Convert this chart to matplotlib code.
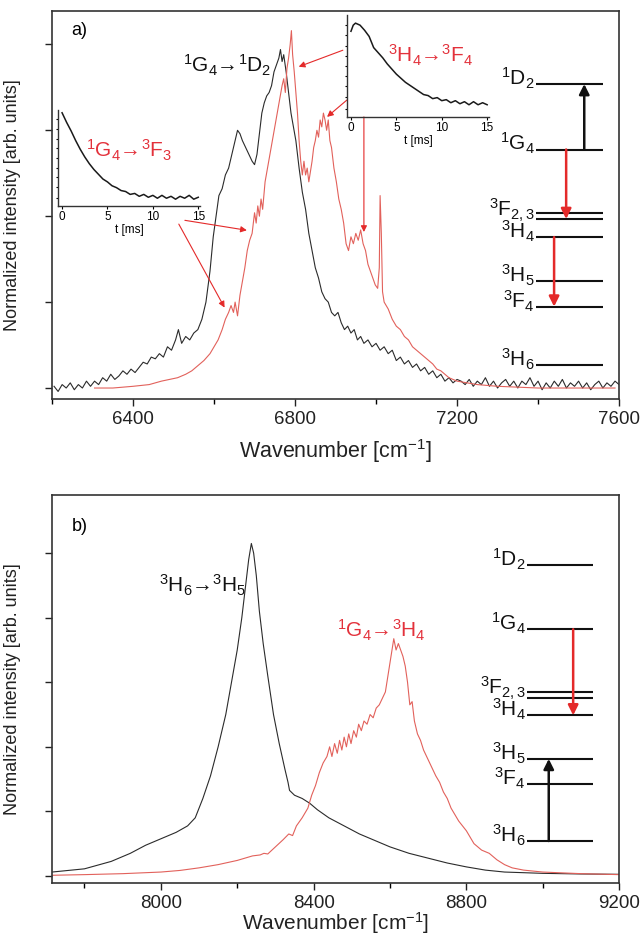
import matplotlib
matplotlib.use('Agg')
import matplotlib.pyplot as plt
from matplotlib.ticker import MultipleLocator

plt.rcParams['font.family'] = ['Liberation Sans', 'DejaVu Sans']
plt.rcParams['mathtext.fontset'] = 'custom'
plt.rcParams['mathtext.rm'] = 'Liberation Sans'
plt.rcParams['mathtext.it'] = 'Liberation Sans:italic'
plt.rcParams['mathtext.bf'] = 'Liberation Sans:bold'

BLACK = '#2b2b2b'
RED_LINE = '#e2615b'
RED_TXT = '#e3313b'
RED_ARR = '#e42a2a'

# ---------------- panel a: 1G4 -> 1D2 (black) and 1G4 -> 3F3 / 3H4 -> 3F4 (red)
a_black_x = [6205, 6215, 6225, 6235, 6245, 6255, 6265, 6275, 6285, 6295, 6305, 6315, 6325, 6335,
             6345, 6355, 6365, 6375, 6385, 6395, 6405, 6415, 6425, 6435, 6445, 6455, 6465, 6475,
             6485, 6495, 6505, 6512, 6520, 6530, 6540, 6550, 6560, 6570, 6580, 6590, 6598, 6605,
             6612, 6620, 6628, 6636, 6644, 6652, 6658, 6664, 6670, 6678, 6686, 6694, 6700, 6706,
             6712, 6718, 6724, 6730, 6736, 6742, 6748, 6754, 6760, 6764, 6768, 6772, 6778, 6784,
             6790, 6796, 6802, 6810, 6818, 6826, 6834, 6842, 6850, 6858, 6866, 6874, 6882, 6890,
             6898, 6906, 6914, 6922, 6930, 6938, 6946, 6954, 6962, 6970, 6980, 6990, 7000, 7010,
             7020, 7030, 7040, 7050, 7060, 7070, 7080, 7090, 7100, 7110, 7120, 7130, 7140, 7150,
             7160, 7170, 7180, 7190, 7200, 7210, 7220, 7230, 7240, 7250, 7260, 7270, 7280, 7290,
             7300, 7310, 7320, 7330, 7340, 7350, 7360, 7370, 7380, 7390, 7400, 7410, 7420, 7430,
             7440, 7450, 7460, 7470, 7480, 7490, 7500, 7510, 7520, 7530, 7540, 7550, 7560, 7570,
             7580, 7590, 7600]
a_black_y = [0.005, -0.01, 0.01, 0.0, 0.015, -0.005, 0.01, 0.0, 0.02, 0.005, 0.02, 0.01, 0.03, 0.02,
             0.04, 0.025, 0.035, 0.05, 0.04, 0.055, 0.045, 0.06, 0.075, 0.07, 0.09, 0.085, 0.10, 0.09,
             0.12, 0.11, 0.14, 0.17, 0.13, 0.15, 0.14, 0.16, 0.17, 0.20, 0.25, 0.34, 0.44, 0.50,
             0.56, 0.58, 0.62, 0.64, 0.68, 0.72, 0.75, 0.74, 0.72, 0.70, 0.68, 0.66, 0.65, 0.68,
             0.74, 0.80, 0.83, 0.85, 0.86, 0.88, 0.92, 0.94, 0.96, 0.985, 0.95, 0.97, 0.92, 0.86,
             0.80, 0.76, 0.72, 0.64, 0.57, 0.52, 0.45, 0.40, 0.35, 0.32, 0.28, 0.26, 0.25, 0.22,
             0.21, 0.22, 0.19, 0.17, 0.18, 0.16, 0.17, 0.14, 0.15, 0.13, 0.14, 0.12, 0.13, 0.11,
             0.12, 0.10, 0.11, 0.08, 0.09, 0.07, 0.08, 0.06, 0.07, 0.05, 0.06, 0.04, 0.05, 0.03,
             0.04, 0.02, 0.03, 0.015, 0.025, 0.02, 0.01, 0.025, 0.005, 0.02, 0.01, 0.03, 0.005, 0.02,
             0.0, 0.015, 0.025, 0.005, 0.02, 0.0, 0.02, 0.01, 0.03, 0.005, 0.02, -0.005, 0.015, 0.0,
             0.02, 0.005, 0.025, 0.0, 0.015, 0.005, 0.02, 0.0, 0.015, -0.005, 0.01, 0.02, 0.0, 0.015,
             0.005, 0.02, 0.01]

a_red_x = [6305, 6350, 6400, 6440, 6470, 6490, 6510, 6530, 6545, 6560, 6575, 6590, 6600, 6610,
           6620, 6628, 6636, 6642, 6648, 6652, 6658, 6664, 6670, 6676, 6682, 6688, 6694, 6700,
           6704, 6708, 6712, 6716, 6720, 6726, 6732, 6738, 6744, 6750, 6756, 6762, 6768, 6772,
           6776, 6780, 6784, 6788, 6791, 6794, 6798, 6802, 6806, 6810, 6814, 6818, 6822, 6826,
           6830, 6834, 6838, 6842, 6846, 6850, 6854, 6858, 6862, 6866, 6870, 6874, 6878, 6882,
           6886, 6890, 6896, 6902, 6908, 6914, 6920, 6926, 6932, 6938, 6944, 6950, 6956, 6962,
           6968, 6974, 6980, 6986, 6992, 6998, 7004, 7008, 7010, 7013, 7016, 7020, 7030, 7040,
           7050, 7060, 7070, 7080, 7090, 7100, 7110, 7120, 7130, 7140, 7150, 7160, 7170, 7180,
           7190, 7200, 7250, 7300, 7400, 7500, 7590]
a_red_y = [0.0, 0.0, 0.005, 0.01, 0.02, 0.025, 0.03, 0.04, 0.05, 0.065, 0.08, 0.10, 0.12, 0.14,
           0.17, 0.20, 0.22, 0.24, 0.22, 0.25, 0.21, 0.27, 0.31, 0.35, 0.40, 0.43, 0.45, 0.51,
           0.48, 0.53, 0.50, 0.55, 0.52, 0.60, 0.64, 0.68, 0.72, 0.76, 0.80, 0.84, 0.88, 0.90,
           0.86, 0.93, 0.96, 1.00, 1.04, 0.97, 0.92, 0.86, 0.80, 0.72, 0.66, 0.62, 0.66, 0.62,
           0.64, 0.60, 0.63, 0.66, 0.70, 0.72, 0.75, 0.73, 0.78, 0.76, 0.80, 0.78, 0.75, 0.78,
           0.72, 0.70, 0.64, 0.60, 0.55, 0.52, 0.48, 0.42, 0.40, 0.44, 0.42, 0.45, 0.43, 0.46,
           0.42, 0.40, 0.36, 0.34, 0.32, 0.30, 0.29, 0.35, 0.56, 0.45, 0.28, 0.25, 0.23, 0.20,
           0.18, 0.17, 0.15, 0.14, 0.12, 0.11, 0.10, 0.09, 0.08, 0.07, 0.055, 0.05, 0.04, 0.03,
           0.025, 0.02, 0.01, 0.005, 0.0, 0.0, 0.0]

# insets of panel a (decay curves)
in1_t = [0, 0.5, 1, 1.5, 2, 2.5, 3, 3.5, 4, 4.5, 5, 5.5, 6, 6.5, 7, 7.5, 8, 8.5, 9, 9.5,
         10, 10.5, 11, 11.5, 12, 12.5, 13, 13.5, 14, 14.5, 15]
in1_y = [0.97, 0.87, 0.78, 0.68, 0.59, 0.51, 0.44, 0.38, 0.33, 0.28, 0.25, 0.21, 0.19, 0.16,
         0.15, 0.12, 0.13, 0.10, 0.12, 0.09, 0.11, 0.08, 0.11, 0.08, 0.10, 0.07, 0.10, 0.08,
         0.11, 0.07, 0.09]
in2_t = [0, 0.25, 0.5, 1, 1.5, 2, 2.5, 3, 3.5, 4, 4.5, 5, 5.5, 6, 6.5, 7, 7.5, 8, 8.5, 9,
         9.5, 10, 10.5, 11, 11.5, 12, 12.5, 13, 13.5, 14, 14.5, 15]
in2_y = [0.84, 0.90, 0.92, 0.90, 0.85, 0.79, 0.68, 0.63, 0.58, 0.52, 0.47, 0.42, 0.38, 0.34,
         0.31, 0.28, 0.25, 0.22, 0.21, 0.18, 0.19, 0.16, 0.17, 0.14, 0.16, 0.13, 0.15, 0.12,
         0.15, 0.12, 0.14, 0.12]

# ---------------- panel b: 3H6 -> 3H5 (black) and 1G4 -> 3H4 (red)
b_black_x = [7715, 7800, 7870, 7920, 7960, 8000, 8040, 8070, 8090, 8110, 8130, 8150, 8170, 8185,
             8200, 8212, 8222, 8230, 8237, 8243, 8250, 8258, 8268, 8280, 8295, 8310, 8325, 8333,
             8337, 8350, 8370, 8390, 8410, 8440, 8480, 8520, 8560, 8600, 8650, 8700, 8750, 8800,
             8850, 8900, 9000, 9100, 9200]
b_black_y = [0.012, 0.022, 0.045, 0.07, 0.095, 0.115, 0.135, 0.155, 0.18, 0.24, 0.31, 0.40, 0.50,
             0.60, 0.70, 0.80, 0.90, 0.98, 1.03, 1.00, 0.93, 0.82, 0.72, 0.62, 0.50, 0.41, 0.33,
             0.29, 0.265, 0.25, 0.24, 0.225, 0.205, 0.18, 0.155, 0.13, 0.11, 0.09, 0.07, 0.055,
             0.04, 0.028, 0.018, 0.012, 0.008, 0.006, 0.005]

b_red_x = [7715, 7800, 7900, 8000, 8050, 8100, 8150, 8200, 8240, 8260, 8270, 8280, 8300, 8320,
           8335, 8345, 8355, 8370, 8385, 8395, 8405, 8415, 8425, 8435, 8442, 8448, 8455, 8462,
           8468, 8474, 8480, 8486, 8492, 8498, 8505, 8512, 8518, 8525, 8532, 8540, 8548, 8556,
           8564, 8572, 8580, 8588, 8596, 8604, 8610, 8616, 8622, 8628, 8634, 8640, 8646, 8652,
           8658, 8664, 8672, 8680, 8688, 8696, 8704, 8712, 8720, 8730, 8740, 8750, 8760, 8770,
           8780, 8790, 8800, 8810, 8820, 8830, 8840, 8850, 8860, 8870, 8880, 8900, 8920, 8950,
           9000, 9100, 9200]
b_red_y = [0.002, 0.004, 0.007, 0.012, 0.017, 0.025, 0.035, 0.048, 0.062, 0.065, 0.07, 0.068,
           0.09, 0.112, 0.13, 0.125, 0.155, 0.18, 0.21, 0.25, 0.28, 0.32, 0.35, 0.37, 0.40, 0.37,
           0.41, 0.38, 0.42, 0.39, 0.43, 0.40, 0.44, 0.41, 0.45, 0.43, 0.47, 0.45, 0.48, 0.47,
           0.50, 0.49, 0.52, 0.53, 0.55, 0.57, 0.63, 0.69, 0.735, 0.70, 0.72, 0.70, 0.68, 0.65,
           0.60, 0.53, 0.54, 0.48, 0.44, 0.42, 0.39, 0.37, 0.35, 0.33, 0.31, 0.29, 0.26, 0.24,
           0.21, 0.19, 0.17, 0.155, 0.14, 0.12, 0.10, 0.09, 0.08, 0.075, 0.07, 0.06, 0.05, 0.035,
           0.025, 0.018, 0.012, 0.007, 0.004]

# ---------------- Tm3+ energy levels [cm-1]
level_energy = [0, 5800, 8300, 12700, 14500, 15100, 21400, 27900]
level_label = ['$^3$H$_6$', '$^3$F$_4$', '$^3$H$_5$', '$^3$H$_4$', '$^3$F$_{2,3}$', '',
               '$^1$G$_4$', '$^1$D$_2$']


def style_main(ax, xlim, ylim, yticks):
    ax.set_xlim(*xlim)
    ax.set_ylim(*ylim)
    ax.xaxis.set_major_locator(MultipleLocator(400))
    ax.xaxis.set_minor_locator(MultipleLocator(200))
    ax.set_yticks(yticks)
    ax.set_yticklabels([])
    ax.tick_params(which='major', direction='out', length=5, width=1.0, labelsize=13.5,
                   colors='#222222', top=False, right=False)
    ax.tick_params(which='minor', direction='out', length=3.5, width=1.0, top=False, right=False)
    for s in ax.spines.values():
        s.set_linewidth(1.2)
        s.set_color('#333333')
    ax.set_ylabel('Normalized intensity [arb. units]', fontsize=13, color='#222222')
    ax.yaxis.set_label_coords(-0.055, 0.5)


def draw_levels(ax, arrows):
    ax.set_xlim(0, 1)
    ax.set_ylim(0, 27900)
    ax.axis('off')
    ax.hlines(level_energy, 0, 1, colors='#111111', lw=1.5, clip_on=False)
    for name, e in zip(level_label, level_energy):
        if name:
            # the 3F(2,3) label sits a little higher so it clears the 3H4 label
            dy = 2 if 'F$_{2' in name else -1
            ax.annotate(name, xy=(0, e), xytext=(-1, dy), textcoords='offset points',
                        ha='right', va='baseline', fontsize=15, color='#111111',
                        annotation_clip=False)
    for x0, e0, e1, c in arrows:
        ax.annotate('', xy=(x0, e1), xytext=(x0, e0), annotation_clip=False,
                    arrowprops=dict(arrowstyle='-|>', color=c, lw=1.8, mutation_scale=15,
                                    shrinkA=0, shrinkB=0, clip_on=False))


def draw_inset(ax, t, y):
    ax.plot(t, y, color='#1a1a1a', lw=1.1)
    ax.set_xlim(-0.45, 15.2)
    ax.set_ylim(0.0, 1.0)
    ax.set_facecolor('none')
    ax.spines['top'].set_visible(False)
    ax.spines['right'].set_visible(False)
    for s in ['left', 'bottom']:
        ax.spines[s].set_linewidth(1.0)
        ax.spines[s].set_color('#333333')
    ax.set_xticks([0, 5, 10, 15])
    ax.set_yticks([0.08, 0.2, 0.3, 0.4, 0.5, 0.6, 0.7, 0.8, 0.9])
    ax.set_yticklabels([])
    ax.tick_params(axis='x', direction='out', length=2.5, labelsize=8.5, pad=1)
    ax.tick_params(axis='y', direction='out', length=1.5)
    ax.set_xlabel('t [ms]', fontsize=8.5, labelpad=1)


fig = plt.figure(figsize=(6.4, 9.36), dpi=100)

# ---------------- panel a
ax1 = fig.add_axes([0.0813, 0.5737, 0.886, 0.4145])
ax1.plot(a_black_x, a_black_y, color=BLACK, lw=0.8)
ax1.plot(a_red_x, a_red_y, color=RED_LINE, lw=0.8)
style_main(ax1, (6200, 7600), (-0.032, 1.097), [0, 0.25, 0.5, 0.75, 1.0])
ax1.set_xlabel('Wavenumber [cm$^{-1}$]', fontsize=15.5, labelpad=7, color='#222222')
ax1.text(0.034, 0.951, 'a)', transform=ax1.transAxes, fontsize=13, va='center', ha='left')
ax1.text(6632, 0.94, '$^1$G$_4$\u2192$^1$D$_2$', fontsize=15, ha='center', va='center',
         color='#111111')

# annotation arrows pointing to the lines whose decays are shown
red_arrows = [((6918, 0.983), (6809, 0.935)),
              ((6928, 0.838), (6879, 0.789)),
              ((6970, 0.789), (6970, 0.454)),
              ((6528, 0.488), (6681, 0.459)),
              ((6513, 0.477), (6626, 0.234))]
for start, end in red_arrows:
    ax1.annotate('', xy=end, xytext=start,
                 arrowprops=dict(arrowstyle='-|>', color=RED_ARR, lw=0.8, mutation_scale=9,
                                 shrinkA=0, shrinkB=0))

ins1 = fig.add_axes([0.0906, 0.780, 0.222, 0.1026])
draw_inset(ins1, in1_t, in1_y)
ins1.text(0.5, 0.58, '$^1$G$_4$\u2192$^3$F$_3$', transform=ins1.transAxes, fontsize=15,
          ha='center', va='center', color=RED_TXT)

ins2 = fig.add_axes([0.542, 0.875, 0.222, 0.109])
draw_inset(ins2, in2_t, in2_y)
ins2.text(0.59, 0.60, '$^3$H$_4$\u2192$^3$F$_4$', transform=ins2.transAxes, fontsize=15,
          ha='center', va='center', color=RED_TXT)

lev1 = fig.add_axes([0.8375, 0.6100, 0.1047, 0.3002])
draw_levels(lev1, [(0.72, 21400, 27900, '#111111'),
                   (0.45, 21400, 14500, RED_ARR),
                   (0.27, 12700, 5800, RED_ARR)])

# ---------------- panel b
ax2 = fig.add_axes([0.0813, 0.0566, 0.886, 0.4145])
ax2.plot(b_black_x, b_black_y, color=BLACK, lw=0.8)
ax2.plot(b_red_x, b_red_y, color=RED_LINE, lw=0.8)
style_main(ax2, (7715, 9200), (-0.022, 1.18), [0, 0.2, 0.4, 0.6, 0.8, 1.0])
ax2.set_xlabel('Wavenumber [cm$^{-1}$]', fontsize=15, labelpad=-1, color='#222222')
ax2.text(0.034, 0.918, 'b)', transform=ax2.transAxes, fontsize=13, va='center', ha='left')
ax2.text(8110, 0.90, '$^3$H$_6$\u2192$^3$H$_5$', fontsize=15, ha='center', va='center',
         color='#111111')
ax2.text(8577, 0.76, '$^1$G$_4$\u2192$^3$H$_4$', fontsize=15, ha='center', va='center',
         color=RED_TXT)

lev2 = fig.add_axes([0.8234, 0.1015, 0.1031, 0.2949])
draw_levels(lev2, [(0.33, 0, 8300, '#111111'),
                   (0.70, 21400, 12700, RED_ARR)])

fig.savefig('out.png', dpi=100)
